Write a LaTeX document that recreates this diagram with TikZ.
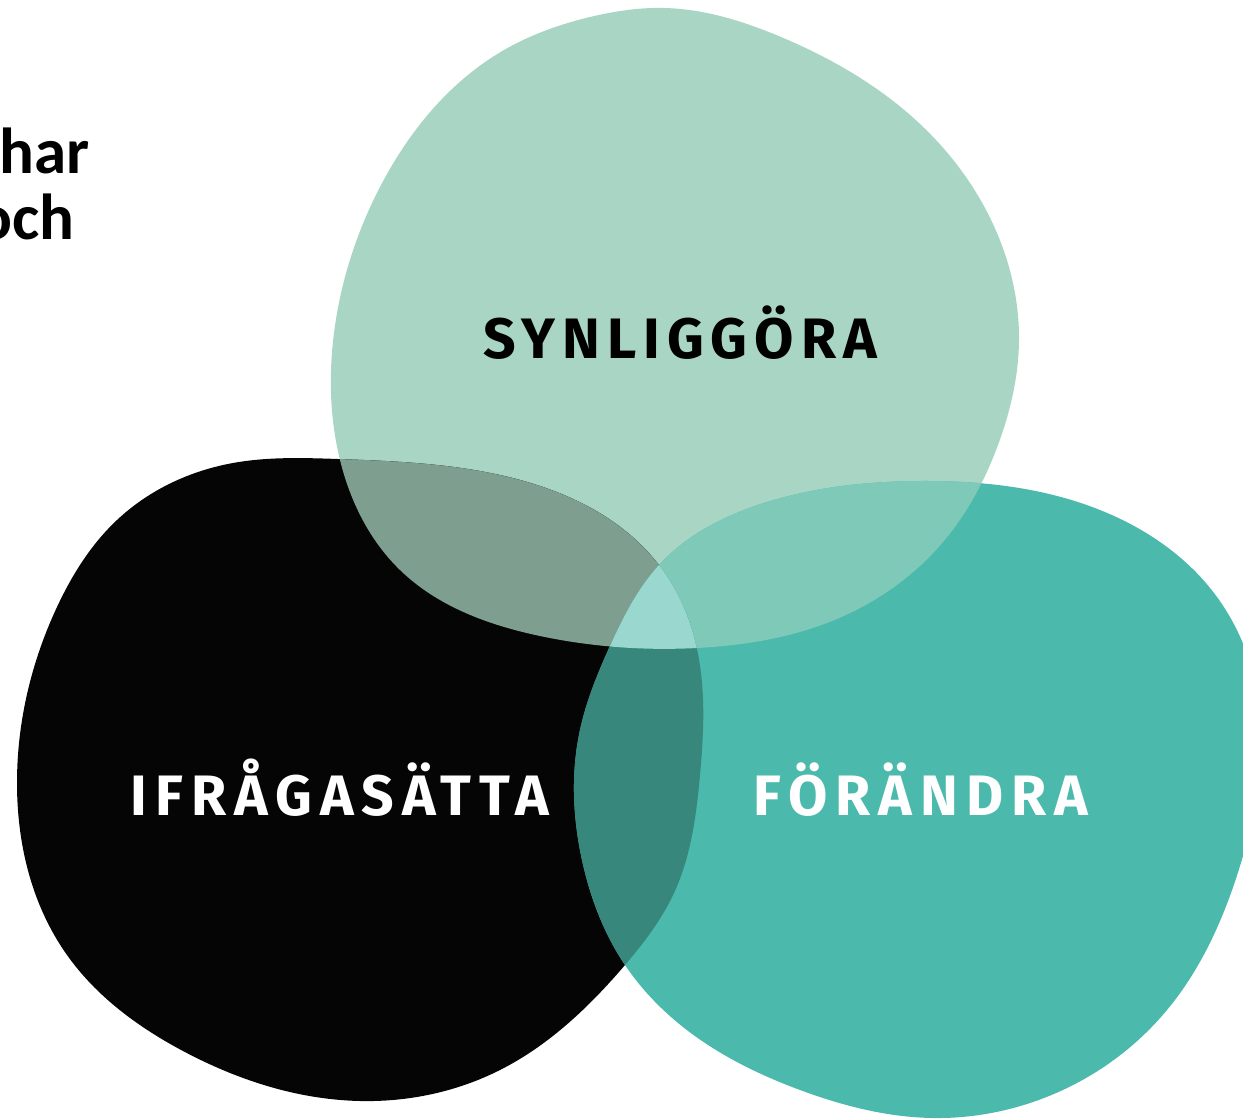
\documentclass[tikz,border=0pt]{standalone}
\usepackage{fontspec}
\usetikzlibrary{hobby}
\setmainfont{Fira Sans}
\newfontfamily\labelfont[LetterSpace=14]{Fira Sans}
\newfontfamily\labelfontb[LetterSpace=12.3]{Fira Sans}
\newfontfamily\bodyfont{Carlito}
\definecolor{cgreen}{HTML}{A9D6C4}
\definecolor{cblack}{HTML}{050505}
\definecolor{cteal}{HTML}{4BB9AC}
\definecolor{cbg}{HTML}{7E9F8F}
\definecolor{cgt}{HTML}{7FC9B9}
\definecolor{cbt}{HTML}{37877D}
\definecolor{call}{HTML}{9AD7CF}
\tikzset{blob/.style={use Hobby shortcut,closed=true}}
\def\greenpath{(665,8) .. (781,37) .. (919,123) .. (997,233) .. (1019,340) .. (998,445) .. (948,536) .. (846,615) .. (697,648) .. (540,636) .. (400,570) .. (340,460) .. (334,333) .. (380,187) .. (504,50) .. (590,17)}
\def\blackpath{(338,459) .. (500,475) .. (659,565) .. (697,649) .. (700,775) .. (674,893) .. (625,965) .. (500,1070) .. (360,1101) .. (183,1051) .. (67,955) .. (17,781) .. (57,607) .. (117,520) .. (233,463)}
\def\tealpath{(920,481) .. (1100,510) .. (1217,597) .. (1262,740) .. (1243,856) .. (1167,1010) .. (1033,1102) .. (933,1118) .. (800,1090) .. (683,1027) .. (625,965) .. (582,860) .. (580,730) .. (610,646) .. (659,565) .. (764,503)}
\begin{document}
\begin{tikzpicture}[x=1pt,y=-1pt]
\useasboundingbox (0,0) rectangle (1243,1119);
\begin{scope}
\clip (0,0) rectangle (1243,1119);
\fill[cgreen,blob] \greenpath;
\fill[cblack,blob] \blackpath;
\fill[cteal,blob] \tealpath;
\begin{scope}
\clip[blob] \greenpath;
\fill[cbg,blob] \blackpath;
\fill[cgt,blob] \tealpath;
\end{scope}
\begin{scope}
\clip[blob] \blackpath;
\fill[cbt,blob] \tealpath;
\end{scope}
\begin{scope}
\clip[blob] \greenpath;
\clip[blob] \blackpath;
\fill[call,blob] \tealpath;
\end{scope}
\end{scope}
\node[anchor=base east,inner sep=0pt,font=\bodyfont\bfseries\fontsize{65}{66}\selectfont] (t1) at (90,173) {har};
\node[anchor=base east,inner sep=0pt,font=\bodyfont\bfseries\fontsize{65}{66}\selectfont] (t2) at (75,239) {och};
\node[anchor=base,font=\labelfontb\bfseries\fontsize{57}{60}\selectfont,text=black,inner sep=0pt] (s) at (680,358) {SYNLIGGÖRA};
\node[anchor=base,font=\labelfont\bfseries\fontsize{57}{60}\selectfont,text=white,inner sep=0pt] (i) at (340,815) {IFRÅGASÄTTA};
\node[anchor=base,font=\labelfont\bfseries\fontsize{57}{60}\selectfont,text=white,inner sep=0pt] (f) at (921,815) {FÖRÄNDRA};
\end{tikzpicture}
\end{document}
